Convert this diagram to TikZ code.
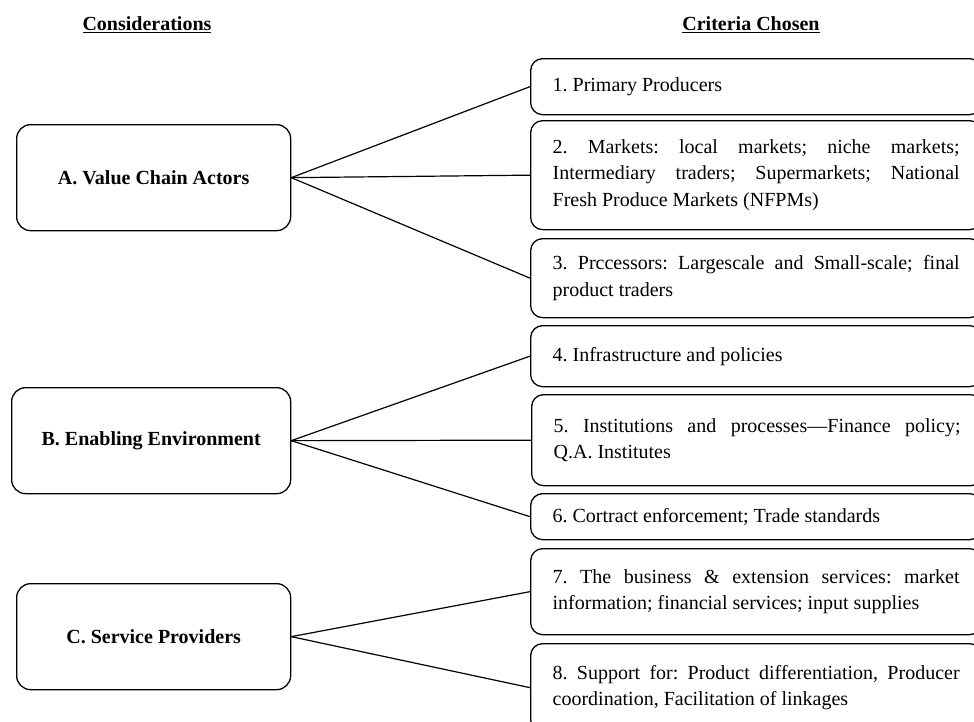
\documentclass[tikz,border=0pt]{standalone}
\usepackage{fontspec}
\setmainfont{Liberation Serif}
\frenchspacing
\begin{document}
\frenchspacing
\begin{tikzpicture}[x=1pt,y=-1pt,
  cons/.style={draw, line width=1.3pt, rounded corners=14pt,
    font=\fontsize{20}{24}\selectfont\bfseries, minimum height=106pt,
    anchor=north west, inner sep=0pt},
  crit/.style={draw, line width=1.3pt, rounded corners=12pt,
    font=\fontsize{20}{26.7}\selectfont\frenchspacing, text width=407pt, align=justify,
    inner xsep=22pt, inner ysep=0pt, anchor=north west},
  link/.style={line width=1.2pt},
  head/.style={font=\fontsize{20}{24}\selectfont\bfseries}]
\useasboundingbox (0,0) rectangle (974,721);

\node[head] (h1) at (147,25) {\underline{Considerations}};
\node[head] (h2) at (751,25) {\underline{Criteria Chosen}};

\node[cons, minimum width=274pt] (A) at (16,124) {A. Value Chain Actors};
\node[cons, minimum width=279pt] (B) at (11,387) {B. Enabling Environment};
\node[cons, minimum width=274pt] (C) at (16,583) {C. Service Providers};

\node[crit, minimum height=56pt] (c1) at (530,58) {1. Primary Producers};
\node[crit, minimum height=109pt] (c2) at (530,120) {2. Markets: local markets; niche markets;\linebreak Intermediary traders; Supermarkets; National\linebreak Fresh Produce Markets (NFPMs)};
\node[crit, minimum height=79pt] (c3) at (530,238) {3. Prccessors: Largescale and Small-scale; final\linebreak product traders};
\node[crit, minimum height=61pt] (c4) at (530,325) {4. Infrastructure and policies};
\node[crit, minimum height=91pt] (c5) at (531,394) {5. Institutions and processes—Finance policy;\linebreak Q.A. Institutes};
\node[crit, minimum height=46pt] (c6) at (530,493) {6. Cortract enforcement; Trade standards};
\node[crit, minimum height=86pt] (c7) at (530,548) {7. The business \& extension services: market\linebreak information; financial services; input supplies};
\node[crit, minimum height=88pt] (c8) at (530,643) {8. Support for: Product differentiation, Producer\linebreak coordination, Facilitation of linkages};

\draw[link] (A.east) -- (c1.west);
\draw[link] (A.east) -- (c2.west);
\draw[link] (A.east) -- (c3.west);
\draw[link] (B.east) -- (c4.west);
\draw[link] (B.east) -- (c5.west);
\draw[link] (B.east) -- (c6.west);
\draw[link] (C.east) -- (c7.west);
\draw[link] (C.east) -- (c8.west);
\end{tikzpicture}
\end{document}
